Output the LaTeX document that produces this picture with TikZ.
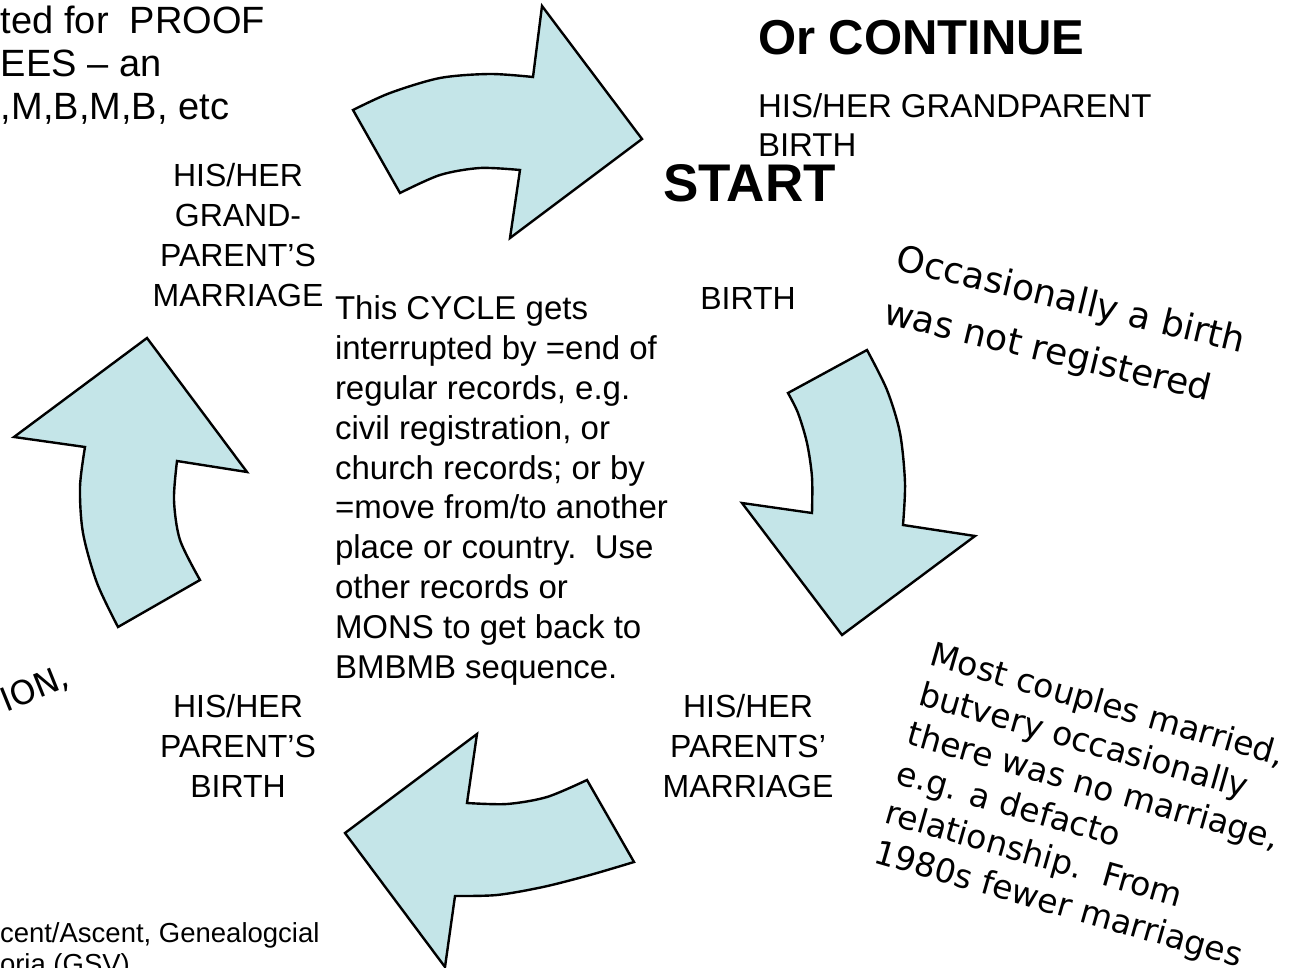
\documentclass[tikz,border=0pt]{standalone}
\usepackage{fontspec}
\setmainfont{Liberation Sans}
\newfontfamily\dejavu{DejaVu Sans}
\definecolor{arrowfill}{RGB}{196,229,232}
\tikzset{
  blockarrow/.style={fill=arrowfill, draw=black, line width=2.4pt, line join=miter},
  plain/.style={inner sep=0pt, outer sep=0pt, text=black},
  lbl/.style={plain, anchor=base, align=center, font=\fontsize{32}{40}\selectfont},
  note/.style={plain, anchor=base west, align=left, font=\dejavu\fontsize{36}{55}\selectfont},
}
\begin{document}
\begin{tikzpicture}[x=1pt,y=-1pt]
\useasboundingbox (0,0) rectangle (1309,968);
\clip (0,0) rectangle (1309,968);

% top arrow
\draw[blockarrow] plot[smooth] coordinates {(353,110) (390,93) (440,78) (490,74) (533,77)}
  -- (542,6) -- (642,139) -- (510,238)
  -- plot[smooth] coordinates {(520,170) (480,168) (440,175) (400,193)} -- cycle;
% right arrow
\draw[blockarrow] plot[smooth] coordinates {(867,350) (887,390) (900,433) (905,483) (903,525)}
  -- (975,536) -- (842,635) -- (742,503)
  -- plot[smooth] coordinates {(812,513) (812,477) (807,443) (798,413) (788,393)} -- cycle;
% bottom arrow
\draw[blockarrow] plot[smooth] coordinates {(587,780) (547,797) (507,804) (467,803)}
  -- (477,734) -- (345,833) -- (445,967)
  -- plot[smooth] coordinates {(455,896) (497,895) (543,887) (590,875) (634,862)} -- cycle;
% left arrow
\draw[blockarrow] plot[smooth] coordinates {(118,627) (97,583) (83,533) (80,487) (85,447)}
  -- (14,437) -- (147,338) -- (247,472)
  -- plot[smooth] coordinates {(177,461) (174,500) (180,540) (200,580)} -- cycle;

\node[plain, anchor=base west, align=left, font=\fontsize{38}{43}\selectfont] (intro) at (1,120)
  {ted for\ \ PROOF\\EES – an\\,M,B,M,B, etc};
\node[plain, anchor=base west, font=\bfseries\fontsize{49}{58}\selectfont] (cont) at (758,55) {Or CONTINUE};
\node[plain, anchor=base west, align=left, font=\fontsize{33}{39}\selectfont] (gpb) at (758,157)
  {HIS/HER GRANDPARENT\\BIRTH};
\node[plain, anchor=base west, font=\bfseries\fontsize{53}{60}\selectfont] (start) at (663,202) {START};
\node[lbl] (birth) at (748,309) {BIRTH};
\node[lbl] (gpm) at (238,307) {HIS/HER\\GRAND-\\PARENT’S\\MARRIAGE};
\node[lbl] (pb) at (238,797) {HIS/HER\\PARENT’S\\BIRTH};
\node[lbl] (pm) at (748,797) {HIS/HER\\PARENTS’\\MARRIAGE};
\node[plain, anchor=base west, align=left, font=\fontsize{33}{39.8}\selectfont] (cycle) at (335,678)
  {This CYCLE gets\\interrupted by =end of\\regular records, e.g.\\civil registration, or\\church records; or by\\=move from/to another\\place or country.\ \ Use\\other records or\\MONS to get back to\\BMBMB sequence.};
\node[note, rotate=-13.5] (occ) at (882,323) {Occasionally a birth\\was not registered};
\node[note, rotate=-16, font=\dejavu\fontsize{33}{41}\selectfont] (most) at (872,862)
  {Most couples married,\\butvery occasionally\\there was no marriage,\\e.g. a defacto\\relationship.\ \ From\\1980s fewer marriages};
\node[note, rotate=22, font=\dejavu\fontsize{33}{40}\selectfont] (ion) at (6,712) {ION,};
\node[plain, anchor=base west, align=left, font=\fontsize{27.5}{31}\selectfont] (src) at (0,973)
  {cent/Ascent, Genealogcial\\oria (GSV)};
\end{tikzpicture}
\end{document}
